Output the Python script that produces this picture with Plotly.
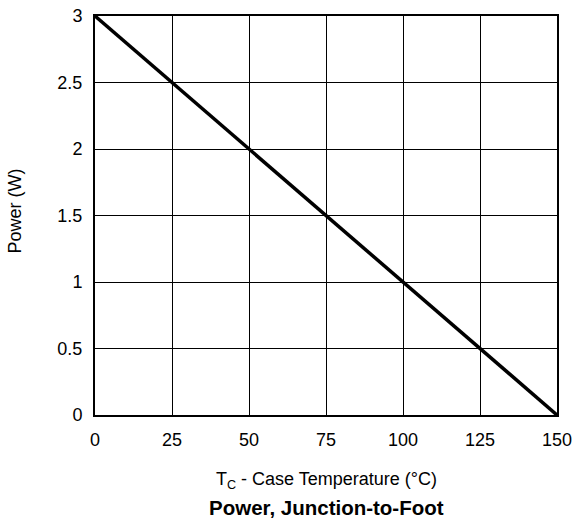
import plotly.graph_objects as go

temp_c = [0, 150]
power_w = [3, 0]
x_ticks = [0, 25, 50, 75, 100, 125, 150]
y_ticks = [0, 0.5, 1, 1.5, 2, 2.5, 3]
y_tick_labels = ["0", "0.5", "1", "1.5", "2", "2.5", "3"]

font_family = "Liberation Sans, Arial, Helvetica, sans-serif"

fig = go.Figure()
fig.add_trace(go.Scatter(x=temp_c, y=power_w, mode="lines",
                         line=dict(color="black", width=3.5),
                         showlegend=False, hoverinfo="skip"))

fig.update_layout(
    width=573, height=522,
    margin=dict(l=95, r=16, t=16, b=107),
    paper_bgcolor="white", plot_bgcolor="white",
    font=dict(family=font_family, size=18, color="black"),
    xaxis=dict(range=[0, 150], tickvals=x_ticks, showgrid=True,
               gridcolor="black", gridwidth=1, zeroline=False,
               showline=True, linecolor="black", linewidth=2, mirror=True,
               ticks="", ticklabelstandoff=7, automargin=False,
               tickfont=dict(size=18)),
    yaxis=dict(range=[0, 3], tickvals=y_ticks, ticktext=y_tick_labels,
               showgrid=True, gridcolor="black", gridwidth=1, zeroline=False,
               showline=True, linecolor="black", linewidth=2, mirror=True,
               ticks="", ticklabelstandoff=7, automargin=False,
               tickfont=dict(size=18)),
    annotations=[
        dict(text="T<sub>C</sub> - Case Temperature (°C)", x=0.5, y=-0.163,
             xref="paper", yref="paper", showarrow=False,
             xanchor="center", yanchor="middle", font=dict(size=18)),
        dict(text="<b>Power, Junction-to-Foot</b>", x=0.5, y=-0.231,
             xref="paper", yref="paper", showarrow=False,
             xanchor="center", yanchor="middle", font=dict(size=20.5)),
        dict(text="Power (W)", x=0, xshift=-80, y=0.51, xref="paper", yref="paper",
             showarrow=False, textangle=-90, xanchor="center", yanchor="middle",
             font=dict(size=18)),
    ],
)

fig.write_html("out.html", config={"displayModeBar": False},
               post_script="document.body.style.margin='0';document.body.style.overflow='hidden';")
